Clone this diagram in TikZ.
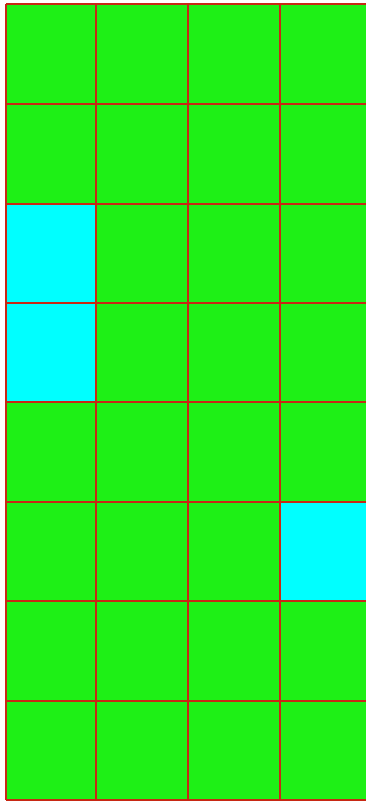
\documentclass[tikz,border=0pt]{standalone}
\begin{document}
\begin{tikzpicture}[x=1pt,y=-1pt,
  cellg/.style={fill={rgb,255:red,30;green,240;blue,22}},
  cellc/.style={fill={rgb,255:red,0;green,255;blue,255}},
  gridline/.style={draw={rgb,255:red,200;green,40;blue,20},line width=1.6pt}]
\useasboundingbox (0,0) rectangle (366,802);
\fill[white] (0,0) rectangle (366,802);
\fill[cellg] (6,4) rectangle (366,800);
\fill[cellc] (6,204) rectangle (96,402);
\fill[cellc] (280,502) rectangle (366,601);
\foreach \x in {6,96,188,280}
  \draw[gridline] (\x,4) -- (\x,800);
\foreach \y in {4,104,204,303,402,502,601,701,800}
  \draw[gridline] (6,\y) -- (366,\y);
\end{tikzpicture}
\end{document}
